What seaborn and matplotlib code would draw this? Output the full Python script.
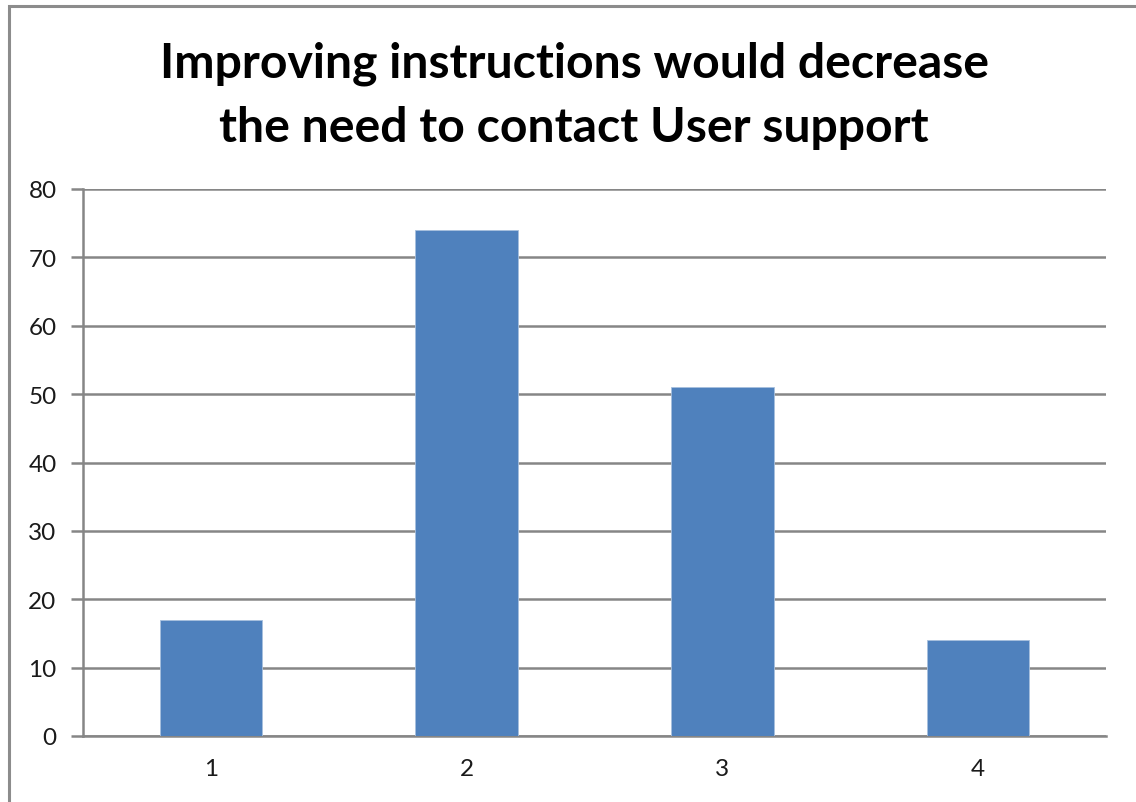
import matplotlib
matplotlib.use("Agg")
import matplotlib.pyplot as plt
from matplotlib.patches import Rectangle
import seaborn as sns
import pandas as pd

categories = ["1", "2", "3", "4"]
counts = [17, 74, 51, 14]
y_ticks = [0, 10, 20, 30, 40, 50, 60, 70, 80]
title = "Improving instructions would decrease\nthe need to contact User support"

sns.set_theme(style="white")
plt.rcParams["font.family"] = ["Lato", "DejaVu Sans"]

df = pd.DataFrame({"category": categories, "count": counts})

fig = plt.figure(figsize=(11.36, 8.03), dpi=100)
ax = fig.add_axes([83 / 1136, 1 - 737 / 803, (1106 - 83) / 1136, (737 - 190) / 803])

sns.barplot(data=df, x="category", y="count", color="#4F81BD", saturation=1,
            width=0.4, ax=ax, zorder=3, edgecolor="#A7C0DE", linewidth=0.6)

grid_color = "#868686"
ax.set_xlim(-0.5, len(categories) - 0.5)
ax.set_ylim(0, 80)
ax.set_yticks(y_ticks)
ax.yaxis.grid(True, color=grid_color, linewidth=1.8, zorder=0)
ax.set_axisbelow(True)

for side in ("top", "right"):
    ax.spines[side].set_visible(False)
for side in ("left", "bottom"):
    ax.spines[side].set_color(grid_color)
    ax.spines[side].set_linewidth(1.8)

ax.set_xlabel("")
ax.set_ylabel("")
ax.tick_params(axis="x", which="major", length=0, pad=16, labelsize=17.5, colors="#1a1a1a")
ax.set_xticks([i - 0.5 for i in range(len(categories) + 1)], minor=True)
ax.tick_params(axis="x", which="minor", length=8, width=1.8, color=grid_color, direction="out")
ax.tick_params(axis="y", length=9, width=1.8, color=grid_color, direction="out",
               pad=10, labelsize=17.5, labelcolor="#1a1a1a", left=True)

fig.text(574 / 1136, 1 - 96 / 803, title, ha="center", va="center",
         fontsize=34.7, fontweight="bold", linespacing=1.55, color="black")

fig.patches.append(Rectangle((9 / 1136, -0.05), 1.2, 1 - 7 / 803 + 0.05,
                             transform=fig.transFigure, fill=False,
                             edgecolor="#8C8C8C", linewidth=2.2))

fig.savefig("out.png", dpi=100, facecolor="white")
